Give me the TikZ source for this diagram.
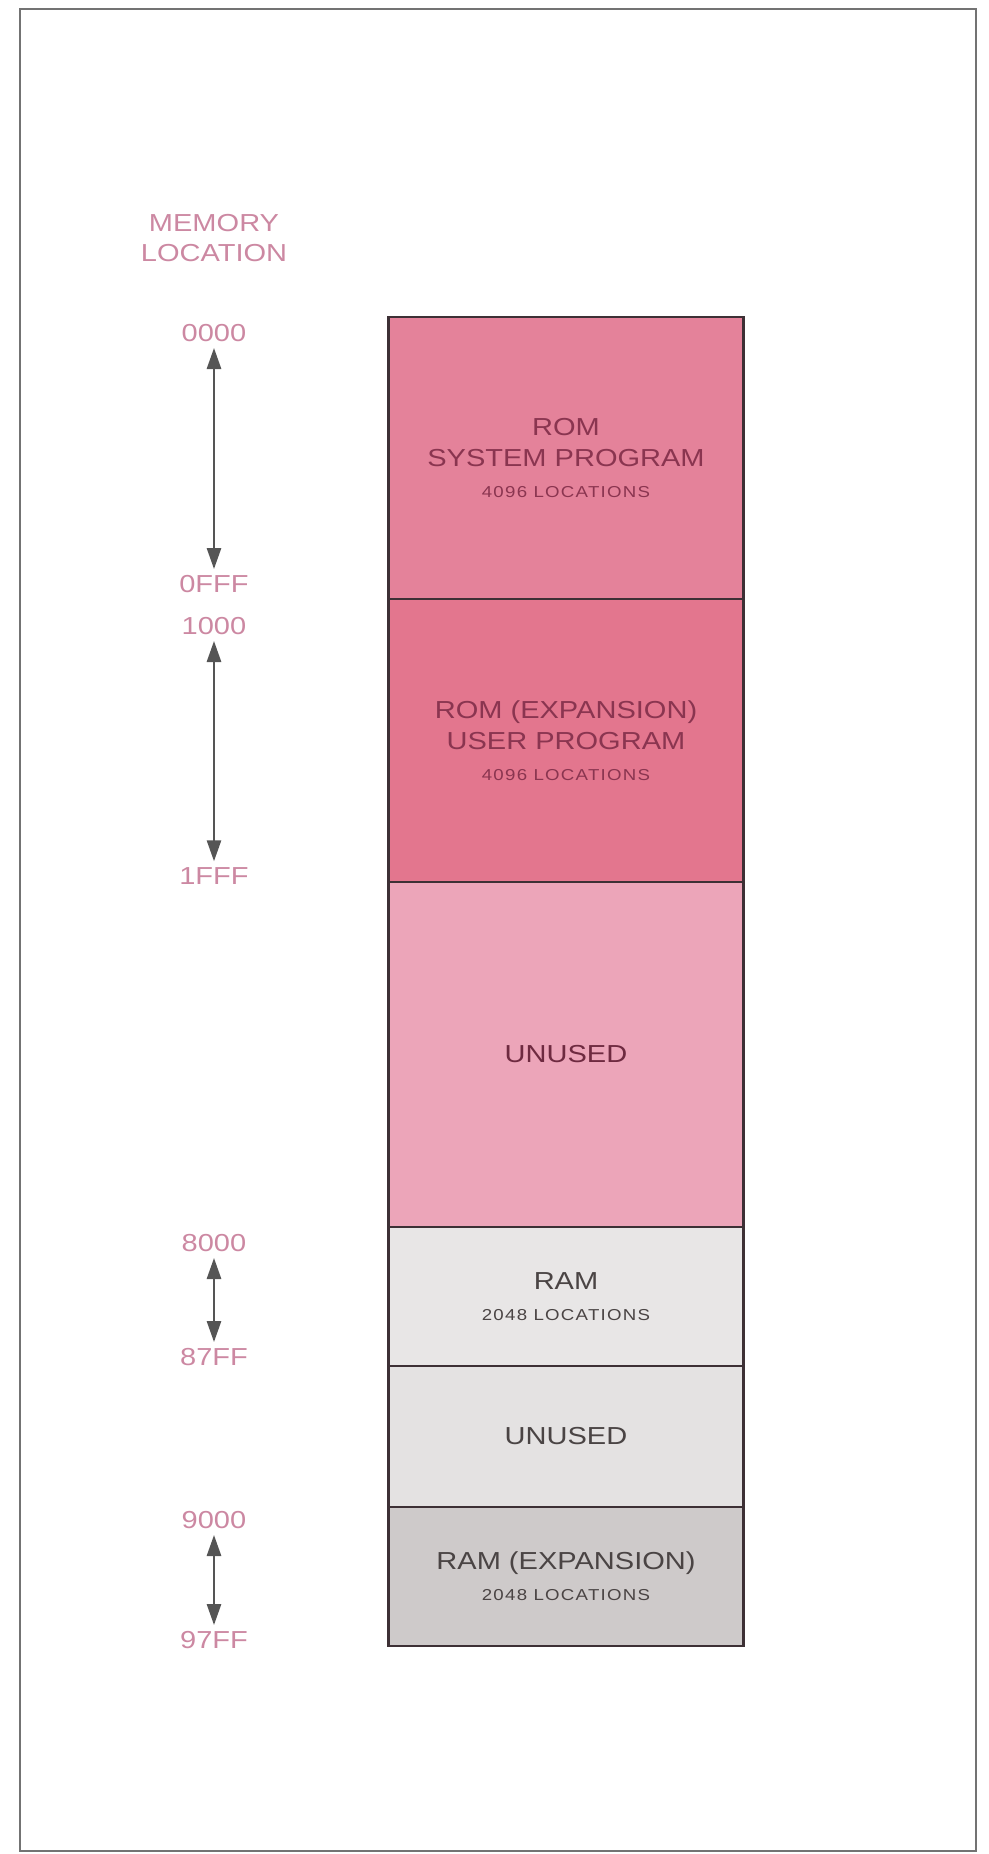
\documentclass[tikz,border=0pt]{standalone}
\usepackage{fontspec}
\setmainfont[FakeStretch=1.18]{Liberation Sans}
\newfontfamily\locfamily[FakeStretch=1.18,LetterSpace=8]{Liberation Sans}
\usepackage{tikz}
\usetikzlibrary{arrows.meta, positioning}

\definecolor{romfill}{HTML}{E4829A}
\definecolor{romxfill}{HTML}{E3768E}
\definecolor{freefill}{HTML}{ECA5B9}
\definecolor{ramfill}{HTML}{E8E6E6}
\definecolor{gapfill}{HTML}{E4E2E2}
\definecolor{ramxfill}{HTML}{CECACA}
\definecolor{romtext}{HTML}{8A3550}
\definecolor{ramtext}{HTML}{4A4444}
\definecolor{addrpink}{HTML}{CC88A2}
\definecolor{boxline}{HTML}{3D3035}
\definecolor{arrowgray}{HTML}{555555}

\newcommand{\loc}[1]{{\locfamily\fontsize{9}{12}\selectfont #1}}

\begin{document}
\begin{tikzpicture}[
  x=0.02cm, y=-0.02cm,
  memblock/.style={rectangle, draw=boxline, line width=1.4pt, minimum width=7.1cm,
                   inner sep=0pt, outer sep=0pt, align=center,
                   font=\fontsize{14}{17.5}\selectfont},
  addr/.style={font=\fontsize{14}{17}\selectfont, text=addrpink},
  arr/.style={{Triangle[length=12pt, width=8pt]}-{Triangle[length=12pt, width=8pt]},
              line width=1.5pt, draw=arrowgray},
]
  \useasboundingbox (0,0) rectangle (988,1854);
  \draw[line width=1.2pt, draw=black!55] (20,9) rectangle (976,1851);

  % memory map
  \node[memblock, fill=romfill, text=romtext, minimum height=5.64cm, anchor=north]
    (rom) at (566,317) {ROM\\SYSTEM PROGRAM\\\loc{4096 LOCATIONS}};
  \node[memblock, fill=romxfill, text=romtext, minimum height=5.66cm, below=0pt of rom]
    (romx) {ROM (EXPANSION)\\USER PROGRAM\\\loc{4096 LOCATIONS}};
  \node[memblock, fill=freefill, text=romtext!80!black, minimum height=6.9cm, below=0pt of romx]
    (free1) {UNUSED};
  \node[memblock, fill=ramfill, text=ramtext, minimum height=2.78cm, below=0pt of free1]
    (ram) {RAM\\\loc{2048 LOCATIONS}};
  \node[memblock, fill=gapfill, text=ramtext, minimum height=2.82cm, below=0pt of ram]
    (free2) {UNUSED};
  \node[memblock, fill=ramxfill, text=ramtext, minimum height=2.78cm, below=0pt of free2]
    (ramx) {RAM (EXPANSION)\\\loc{2048 LOCATIONS}};

  % addresses
  \node[addr, align=center] (title) at (214,238) {MEMORY\\LOCATION};
  \node[addr] (a0000) at (214,333) {0000};
  \node[addr] (a0FFF) at (214,584) {0FFF};
  \node[addr] (a1000) at (214,626) {1000};
  \node[addr] (a1FFF) at (214,876) {1FFF};
  \node[addr] (a8000) at (214,1243) {8000};
  \node[addr] (a87FF) at (214,1357) {87FF};
  \node[addr] (a9000) at (214,1520) {9000};
  \node[addr] (a97FF) at (214,1640) {97FF};

  \draw[arr] (a0000) -- (a0FFF);
  \draw[arr] (a1000) -- (a1FFF);
  \draw[arr] (a8000) -- (a87FF);
  \draw[arr] (a9000) -- (a97FF);
\end{tikzpicture}
\end{document}
